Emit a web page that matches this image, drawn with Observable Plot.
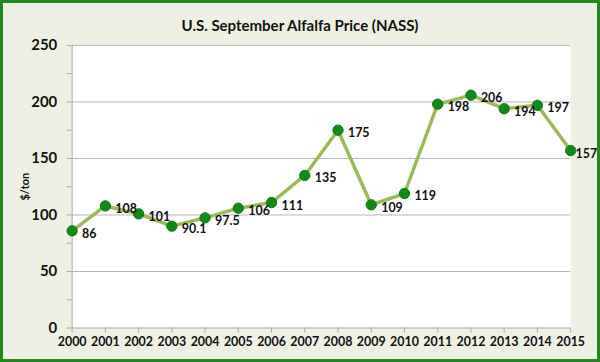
<!DOCTYPE html>
<html>
<head>
<meta charset="utf-8">
<script src="https://cdn.jsdelivr.net/npm/d3@7"></script>
<script src="https://cdn.jsdelivr.net/npm/@observablehq/plot@0.6"></script>
<style>
  html, body { margin: 0; padding: 0; background: #fff; }
  #wrap {
    position: relative; width: 600px; height: 362px; box-sizing: border-box;
    background: #eef0e3; border: 3px solid #1c8a1c; overflow: hidden;
    font-family: Lato, "Open Sans", sans-serif;
  }
  #title {
    position: absolute; left: -3px; top: 13px; width: 600px; text-align: center;
    font-weight: bold; font-size: 15px; color: #111;
  }
  #chart { position: absolute; left: -3px; top: 28px; }
</style>
</head>
<body>
<div id="wrap">
  <div id="title">U.S. September Alfalfa Price (NASS)</div>
  <div id="chart"></div>
</div>
<script>
const years = [2000, 2001, 2002, 2003, 2004, 2005, 2006, 2007, 2008, 2009, 2010, 2011, 2012, 2013, 2014, 2015];
const prices = [86, 108, 101, 90.1, 97.5, 106, 111, 135, 175, 109, 119, 198, 206, 194, 197, 157];
const priceLabels = ["86", "108", "101", "90.1", "97.5", "106", "111", "135", "175", "109", "119", "198", "206", "194", "197", "157"];
const yTicks = [0, 25, 50, 75, 100, 125, 150, 175, 200, 225, 250];
const yLabelTicks = [0, 50, 100, 150, 200, 250];

const data = years.map((y, i) => ({year: y, price: prices[i], label: priceLabels[i]}));
const last = data.length - 1;

const plot = Plot.plot({
  width: 600,
  height: 328,
  marginLeft: 72,
  marginRight: 27,
  marginTop: 14,
  marginBottom: 30,
  style: {background: "transparent", fontFamily: "Lato, 'Open Sans', sans-serif", color: "#111"},
  x: {domain: [2000, 2015]},
  y: {domain: [0, 250]},
  marks: [
    Plot.frame({fill: "white", stroke: null}),
    Plot.gridY(yLabelTicks.filter(d => d > 0), {stroke: "#b4b4b4", strokeOpacity: 1, strokeWidth: 1}),
    Plot.ruleX([2000], {stroke: "#a8a8a8"}),
    Plot.ruleY([0], {stroke: "#a8a8a8"}),
    Plot.axisY({
      ticks: yTicks, tickSize: 5, tickPadding: 10, stroke: "#a8a8a8",
      tickFormat: d => (d % 50 === 0 ? d : ""),
      fontSize: 15, fontWeight: "bold", fill: "#111",
      label: "$/ton", labelAnchor: "center", labelOffset: 51, labelArrow: "none"
    }),
    Plot.axisX({
      ticks: years, tickSize: 5, tickPadding: 4, stroke: "#a8a8a8",
      tickFormat: d => String(d),
      fontSize: 12.5, fontWeight: "bold", fill: "#111", label: null
    }),
    Plot.line(data, {x: "year", y: "price", stroke: "#9bbb59", strokeWidth: 3.5}),
    Plot.dot(data, {x: "year", y: "price", r: 5.2, fill: "#12891a", stroke: "#0f7d15", strokeWidth: 1}),
    Plot.text(data.slice(0, last), {x: "year", y: "price", text: "label", textAnchor: "start", dx: 10, dy: 3, fontSize: 12.5, fontWeight: "bold", fill: "#111"}),
    Plot.text(data.slice(last), {x: "year", y: "price", text: "label", textAnchor: "start", dx: 5, dy: 3, fontSize: 12.5, fontWeight: "bold", fill: "#111"})
  ]
});
document.getElementById("chart").appendChild(plot);
plot.querySelectorAll("g[aria-label='y-axis label'] text").forEach(t => { t.setAttribute("font-size", "11"); });
</script>
</body>
</html>
